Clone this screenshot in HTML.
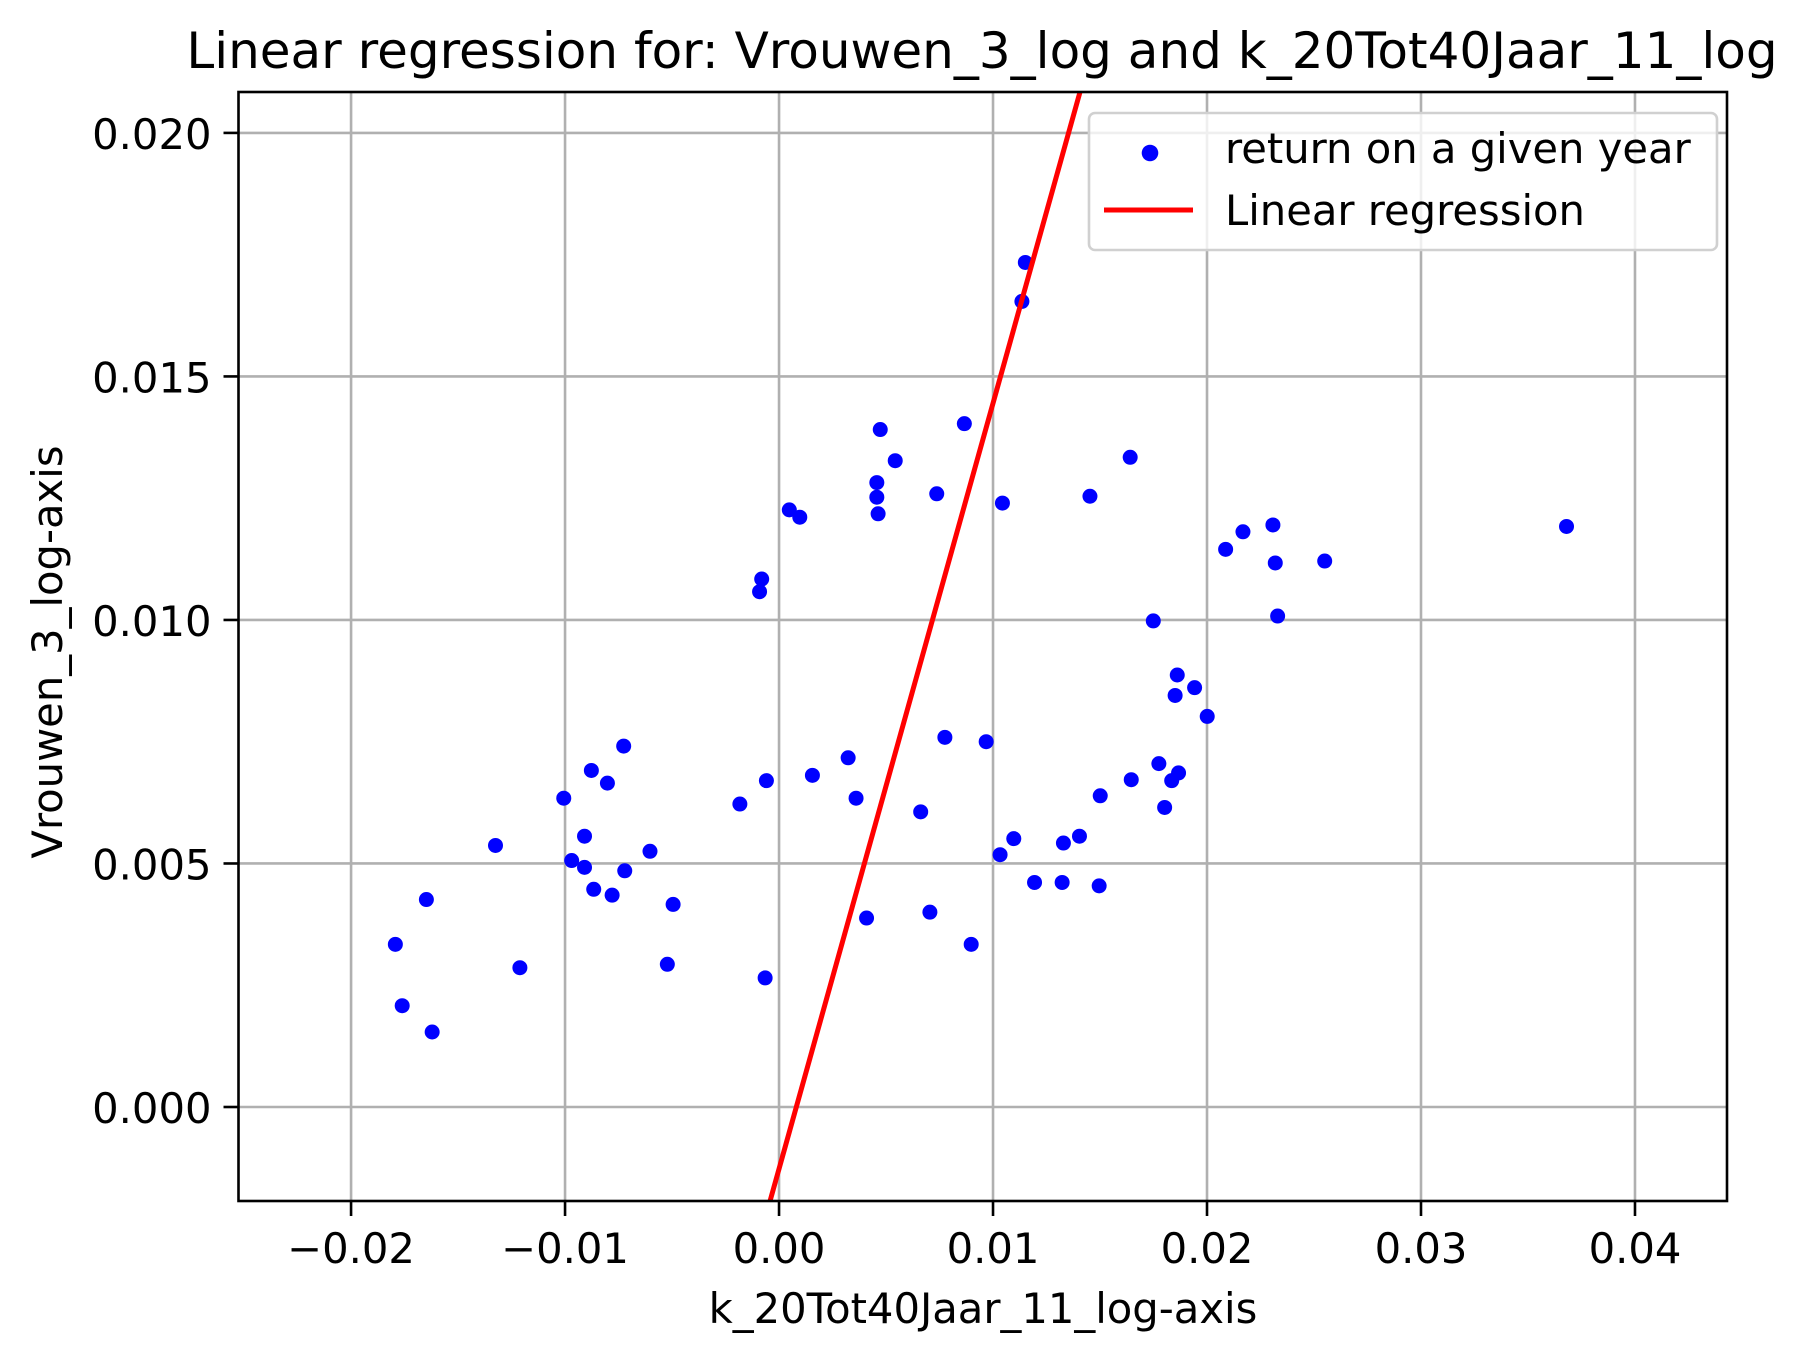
<!DOCTYPE html>
<html><head><meta charset="utf-8"><style>
html,body{margin:0;padding:0;background:#fff}
svg{display:block}
text{font-family:"DejaVu Sans","Liberation Sans",sans-serif;fill:#000}
</style></head><body>
<svg id="chart" width="1807" height="1362" viewBox="0 0 1807 1362" xmlns="http://www.w3.org/2000/svg">
<rect width="1807" height="1362" fill="#fff"/>
<text x="982" y="68" font-size="50" text-anchor="middle">Linear regression for: Vrouwen_3_log and k_20Tot40Jaar_11_log</text>
<g id="grid"></g>
<g id="marks"></g>
<rect x="238.5" y="92" width="1488.5" height="1109" fill="none" stroke="#000" stroke-width="2.6"/>
<g id="ticks"></g>
<text x="983" y="1323" font-size="41.7" text-anchor="middle">k_20Tot40Jaar_11_log-axis</text>
<text transform="translate(62,652) rotate(-90)" font-size="41.7" text-anchor="middle">Vrouwen_3_log-axis</text>
<g>
<rect x="1089" y="113" width="628" height="137" rx="6" fill="#fff" fill-opacity="0.8" stroke="#d0d0d0" stroke-width="2.6"/>
<circle cx="1150" cy="153" r="8.3" fill="#0000ff"/>
<text x="1225" y="163" font-size="41.7">return on a given year</text>
<line x1="1104" y1="210" x2="1193" y2="210" stroke="#ff0000" stroke-width="5"/>
<text x="1225" y="225" font-size="41.7">Linear regression</text>
</g>
</svg>
<script>
const xs = [-0.01793,-0.01761,-0.01648,-0.01621,-0.01325,-0.01211,-0.01006,-0.00969,-0.00909,-0.00909,-0.00877,-0.00866,-0.00802,-0.0078,-0.00726,-0.00721,-0.00603,-0.00522,-0.00495,-0.00183,-0.00091,-0.00081,-0.00065,-0.00059,0.00048,0.00097,0.00156,0.00323,0.0036,0.00409,0.00457,0.00457,0.00463,0.00473,0.00543,0.00662,0.00705,0.00737,0.00775,0.00866,0.00898,0.00968,0.01033,0.01044,0.01097,0.01135,0.01151,0.01194,0.01323,0.01329,0.01404,0.01453,0.01496,0.01501,0.01641,0.01646,0.01749,0.01775,0.01802,0.01835,0.01851,0.01861,0.01867,0.01942,0.02001,0.02087,0.02168,0.02308,0.02319,0.0233,0.0255,0.0368];
const ys = [0.00334,0.00208,0.00426,0.00154,0.00537,0.00286,0.00634,0.00506,0.00556,0.00492,0.00691,0.00447,0.00665,0.00435,0.00741,0.00485,0.00525,0.00293,0.00416,0.00622,0.01058,0.01084,0.00265,0.0067,0.01226,0.01211,0.00681,0.00717,0.00634,0.00388,0.01282,0.01252,0.01218,0.01391,0.01327,0.00606,0.004,0.01259,0.00759,0.01403,0.00334,0.0075,0.00518,0.0124,0.00551,0.01654,0.01734,0.00461,0.00461,0.00542,0.00556,0.01254,0.00454,0.00639,0.01334,0.00672,0.00998,0.00705,0.00615,0.0067,0.00845,0.00887,0.00686,0.00861,0.00802,0.01145,0.01181,0.01195,0.01117,0.01008,0.01121,0.01192];
const xTicks = [-0.02,-0.01,0.00,0.01,0.02,0.03,0.04];
const xTickLabels = ["\u22120.02","\u22120.01","0.00","0.01","0.02","0.03","0.04"];
const yTicks = [0.000,0.005,0.010,0.015,0.020];
const yTickLabels = ["0.000","0.005","0.010","0.015","0.020"];
const regSlope = [1.572];
const regIntercept = [-0.00127];

const L=238.5,R=1727,T=92,B=1201;
const xMin=-0.02526,xMax=0.0443,yMin=-0.00193,yMax=0.02084;
const sx=v=>L+(v-xMin)/(xMax-xMin)*(R-L);
const sy=v=>B-(v-yMin)/(yMax-yMin)*(B-T);
const NS="http://www.w3.org/2000/svg";
function mk(tag,attrs,parent){const e=document.createElementNS(NS,tag);for(const k in attrs)e.setAttribute(k,attrs[k]);parent.appendChild(e);return e;}
const grid=document.getElementById('grid'),marks=document.getElementById('marks'),ticks=document.getElementById('ticks');
xTicks.forEach((v,i)=>{
  const x=sx(v);
  const g=mk('line',{x1:x,x2:x,y1:T,y2:B,stroke:'#b0b0b0','stroke-width':2.6},grid);
  
  
  const t=mk('line',{x1:x,x2:x,y1:B,y2:B+15,stroke:'#000','stroke-width':2.6},ticks);
  
  
  const l=mk('text',{x:x,y:1263,'font-size':41.7,'text-anchor':'middle'},ticks);
  l.textContent=xTickLabels[i];
  
  
});
yTicks.forEach((v,i)=>{
  const y=sy(v);
  const g=mk('line',{x1:L,x2:R,y1:y,y2:y,stroke:'#b0b0b0','stroke-width':2.6},grid);
  
  
  const t=mk('line',{x1:L-15,x2:L,y1:y,y2:y,stroke:'#000','stroke-width':2.6},ticks);
  
  
  const l=mk('text',{x:L-27,y:y+16,'font-size':41.7,'text-anchor':'end'},ticks);
  l.textContent=yTickLabels[i];
  
  
});
xs.forEach((v,i)=>{
  const c=mk('circle',{cx:sx(v),cy:sy(ys[i]),r:7.5,fill:'#0000ff'},marks);
  
  
});
const f=x=>regSlope[0]*x+regIntercept[0];
const xa=(yMin-regIntercept[0])/regSlope[0], xb=(yMax-regIntercept[0])/regSlope[0];
const rl=mk('line',{x1:sx(xa),y1:sy(f(xa)),x2:sx(xb),y2:sy(f(xb)),stroke:'#ff0000','stroke-width':5},marks);


</script>
</body></html>
